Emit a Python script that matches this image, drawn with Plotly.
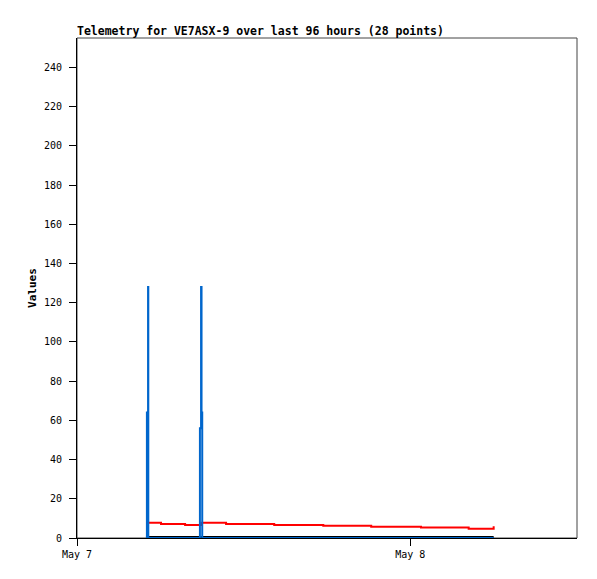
import plotly.graph_objects as go

# Data (times and values)
blue_times = ["2024-05-07 04:58", "2024-05-07 05:02", "2024-05-07 05:07", "2024-05-07 05:08",
              "2024-05-07 08:51", "2024-05-07 08:56", "2024-05-07 08:58", "2024-05-07 09:01",
              "2024-05-08 06:00"]
blue_values = [0, 64, 128, 0, 56, 128, 64, 0, 0]

red_times = ["2024-05-07 05:04", "2024-05-07 06:03", "2024-05-07 07:47", "2024-05-07 08:57",
             "2024-05-07 10:44", "2024-05-07 14:12", "2024-05-07 17:44", "2024-05-07 21:11",
             "2024-05-08 00:46", "2024-05-08 04:12", "2024-05-08 06:00"]
red_values = [7.8, 7.1, 6.6, 7.8, 7.1, 6.6, 6.3, 5.8, 5.3, 4.7, 6.0]

black_times = ["2024-05-07 04:58", "2024-05-08 06:00"]
black_values = [0, 0]

title_text = "Telemetry for VE7ASX-9 over last 96 hours (28 points)"
y_title = "Values"
x_range = ["2024-05-07 00:00", "2024-05-08 12:00"]
y_range = [0, 255]
y_ticks = list(range(0, 241, 20))

mono = "DejaVu Sans Mono"

# the page body has an 8px margin, so the figure is sized to end at the window edge
W, H = 589, 571

fig = go.Figure()
fig.add_trace(go.Scatter(x=red_times, y=red_values, mode="lines",
                         line=dict(color="#ff0000", width=2, shape="hv"), showlegend=False))
fig.add_trace(go.Scatter(x=black_times, y=black_values, mode="lines",
                         line=dict(color="#000000", width=4, shape="hv"), showlegend=False))
fig.add_trace(go.Scatter(x=blue_times, y=blue_values, mode="lines",
                         line=dict(color="#0066cc", width=2, shape="hv"), showlegend=False))

fig.update_layout(
    width=W, height=H,
    margin=dict(l=69, r=20, t=30, b=41),
    paper_bgcolor="white", plot_bgcolor="white",
    title=dict(text="<b>" + title_text + "</b>", x=69 / W, xanchor="left",
               xref="container", y=1 - 23 / H, yanchor="middle", yref="container",
               font=dict(family=mono, size=11.5, color="black")),
    font=dict(family=mono, size=10, color="black"),
    shapes=[dict(type="rect", xref="paper", yref="paper", x0=0, x1=1, y0=0, y1=1,
                 line=dict(color="#444444", width=1), layer="below")],
)
fig.update_xaxes(type="date", range=x_range, dtick=86400000, tick0="2024-05-07",
                 tickformat="%b %-d", ticks="outside", ticklen=7, tickcolor="black",
                 showgrid=False, zeroline=False, showline=True, linecolor="black",
                 tickfont=dict(family=mono, size=10, color="black"))
fig.update_yaxes(range=y_range, tickvals=y_ticks, ticks="outside", ticklen=7, tickcolor="black",
                 ticklabelstandoff=5,
                 showgrid=False, zeroline=False, showline=True, linecolor="black",
                 tickfont=dict(family=mono, size=10, color="black"),
                 title=dict(text="<b>" + y_title + "</b>", standoff=5,
                            font=dict(family=mono, size=11, color="black")))

fig.write_html("out.html")
